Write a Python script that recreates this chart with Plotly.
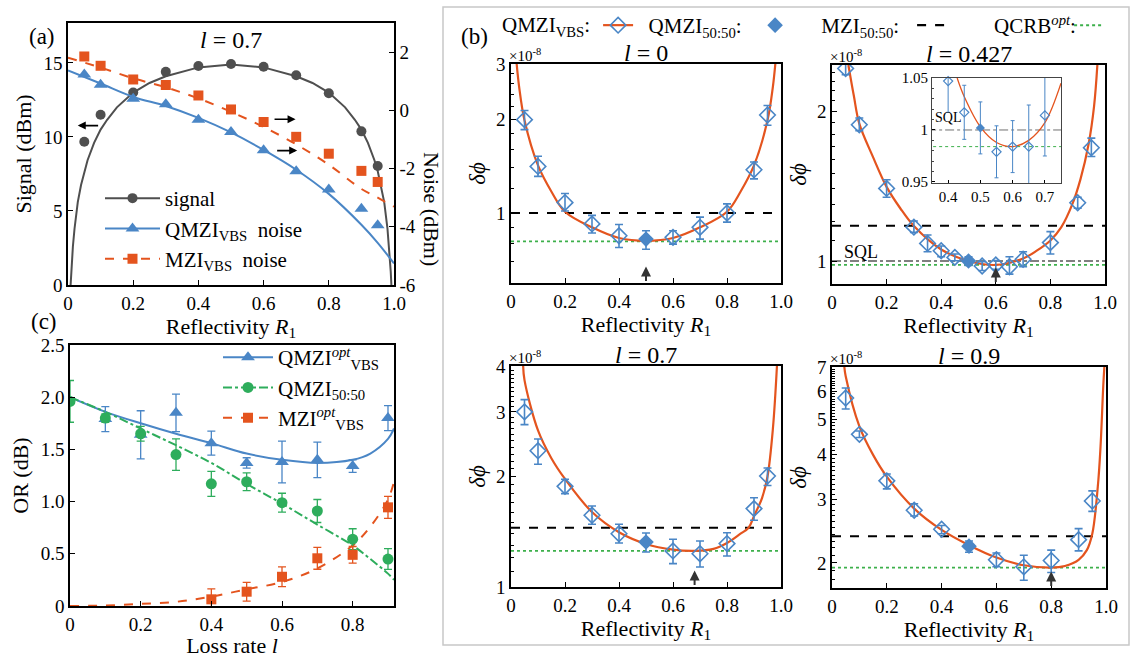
import numpy as np
import plotly.graph_objects as go

# ======================= DATA =======================
# ---- Panel (a): l = 0.7 ----
a_R = [0.05, 0.1, 0.2, 0.3, 0.4, 0.5, 0.6, 0.7, 0.8, 0.9, 0.95]
a_signal = [9.68, 11.5, 13.0, 14.4, 14.8, 14.93, 14.75, 14.17, 12.95, 10.38, 8.04]
a_qmzi_noise = [1.23, 0.88, 0.40, 0.21, -0.32, -0.74, -1.37, -2.09, -2.72, -3.38, -3.95]
a_mzi_noise = [1.85, 1.53, 1.06, 0.87, 0.51, 0.03, -0.40, -0.91, -1.49, -2.08, -2.46]

a_sig_fit_R = [0.008, 0.01, 0.015, 0.02, 0.03, 0.04, 0.05, 0.06, 0.08, 0.1, 0.12, 0.15, 0.2, 0.25, 0.3,
               0.4, 0.5, 0.6, 0.7, 0.75, 0.8, 0.85, 0.88, 0.9, 0.92, 0.94, 0.95, 0.96, 0.97, 0.98,
               0.985, 0.99, 0.992]
a_sig_fit = [0, 0.9, 2.6, 3.8, 5.6, 6.76, 7.7, 8.43, 9.6, 10.5, 11.16, 12.0, 13.0, 13.65, 14.1,
             14.7, 14.9, 14.7, 14.1, 13.65, 13.0, 12.0, 11.16, 10.5, 9.6, 8.43, 7.7, 6.76, 5.6, 3.8,
             2.6, 0.9, 0.0]
a_noise_fit_R = [0, 0.1, 0.2, 0.3, 0.4, 0.5, 0.6, 0.7, 0.8, 0.9, 0.95, 1.0]
a_qmzi_fit = [1.37, 0.92, 0.46, 0.15, -0.26, -0.76, -1.36, -2.04, -2.87, -3.93, -4.55, -5.26]
a_mzi_fit = [1.81, 1.47, 1.10, 0.79, 0.41, -0.05, -0.57, -1.17, -1.87, -2.70, -3.0, -3.31]

# ---- Panel (c): OR vs loss rate ----
c_l_vbs = [0.1, 0.2, 0.3, 0.4, 0.5, 0.6, 0.7, 0.8, 0.9]
c_qmzi_vbs = [1.79, 1.64, 1.85, 1.56, 1.37, 1.38, 1.40, 1.34, 1.80]
c_qmzi_vbs_err = [0.12, 0.23, 0.18, 0.115, 0.05, 0.2, 0.17, 0.06, 0.12]
c_l_5050 = [0, 0.1, 0.2, 0.3, 0.4, 0.5, 0.6, 0.7, 0.8, 0.9]
c_qmzi_5050 = [1.96, 1.80, 1.65, 1.45, 1.17, 1.19, 0.99, 0.91, 0.64, 0.45]
c_qmzi_5050_err = [0.2, 0.04, 0.07, 0.15, 0.12, 0.085, 0.09, 0.11, 0.1, 0.1]
c_l_mzi = [0.4, 0.5, 0.6, 0.7, 0.8, 0.9]
c_mzi_vbs = [0.064, 0.137, 0.28, 0.457, 0.49, 0.945]
c_mzi_vbs_err = [0.1, 0.09, 0.095, 0.105, 0.08, 0.105]
c_fit_l = [0, 0.1, 0.2, 0.3, 0.4, 0.5, 0.6, 0.7, 0.8, 0.85, 0.9, 0.917]
c_fit_qmzi_vbs = [2.0, 1.86, 1.75, 1.65, 1.56, 1.46, 1.40, 1.37, 1.40, 1.46, 1.60, 1.70]
c_fit_qmzi_5050 = [2.0, 1.86, 1.70, 1.54, 1.37, 1.17, 0.98, 0.78, 0.58, 0.45, 0.31, 0.25]
c_fit_mzi_vbs = [0, 0.005, 0.02, 0.04, 0.09, 0.16, 0.23, 0.36, 0.58, 0.76, 1.02, 1.19]

# ---- Panel (b): delta phi (units of 1e-8) ----
b_R_open = [0.05, 0.1, 0.2, 0.3, 0.4, 0.6, 0.7, 0.8, 0.9, 0.95]
b_R_fill = [0.5]

# l = 0
b0_open = [1.99, 1.41, 1.08, 0.923, 0.846, 0.836, 0.90, 1.0, 1.376, 2.06]
b0_open_ep = [0.14, 0.11, 0.075, 0.06, 0.073, 0.042, 0.07, 0.07, 0.08, 0.15]
b0_open_em = [0.14, 0.10, 0.065, 0.06, 0.07, 0.041, 0.075, 0.065, 0.09, 0.15]
b0_fill, b0_fill_ep, b0_fill_em = [0.825], [0.053], [0.059]
b0_fit_R = [0.021, 0.03, 0.05, 0.1, 0.15, 0.2, 0.3, 0.4, 0.5, 0.6, 0.7, 0.8, 0.85, 0.9, 0.95, 0.97, 0.979]
b0_fit = [3.0, 2.54, 1.98, 1.42, 1.17, 1.01, 0.90, 0.832, 0.815, 0.832, 0.90, 1.01, 1.17, 1.42, 1.98, 2.54, 3.0]
b0_mzi, b0_qcrb = 1.0, 0.811

# l = 0.427
b1_R_open = [0.05, 0.1, 0.2, 0.3, 0.35, 0.4, 0.45, 0.55, 0.6, 0.65, 0.7, 0.8, 0.9, 0.95]
b1_open = [2.44, 1.88, 1.40, 1.17, 1.085, 1.049, 1.017, 0.977, 0.982, 0.974, 1.008, 1.089, 1.31, 1.69]
b1_open_ep = [0.05, 0.06, 0.057, 0.034, 0.043, 0.023, 0.016, 0.02, 0.02, 0.046, 0.036, 0.057, 0.034, 0.077]
b1_open_em = [0.07, 0.05, 0.056, 0.028, 0.041, 0.029, 0.016, 0.02, 0.02, 0.033, 0.034, 0.056, 0.033, 0.067]
b1_fill, b1_fill_ep, b1_fill_em = [1.0], [0.02], [0.02]
b1_fit_R = [0.06, 0.08, 0.1, 0.15, 0.2, 0.25, 0.3, 0.4, 0.5, 0.6, 0.7, 0.75, 0.8, 0.84, 0.88, 0.91, 0.94, 0.96, 0.972]
b1_fit = [2.48, 2.15, 1.89, 1.62, 1.41, 1.277, 1.176, 1.055, 1.0, 0.982, 1.012, 1.049, 1.10, 1.17, 1.30, 1.46, 1.72, 2.05, 2.48]
b1_mzi, b1_qcrb, b1_sql = 1.177, 0.982, 1.0

# l = 0.7
b2_open = [3.0, 2.35, 1.88, 1.568, 1.397, 1.254, 1.232, 1.313, 1.635, 2.006]
b2_open_ep = [0.24, 0.18, 0.085, 0.094, 0.085, 0.095, 0.103, 0.093, 0.115, 0.104]
b2_open_em = [0.23, 0.19, 0.084, 0.086, 0.079, 0.096, 0.098, 0.098, 0.115, 0.116]
b2_fill, b2_fill_ep, b2_fill_em = [1.326], [0.077], [0.081]
b2_fit_R = [0.045, 0.05, 0.1, 0.15, 0.2, 0.3, 0.4, 0.5, 0.6, 0.68, 0.75, 0.8, 0.85, 0.88, 0.9, 0.93, 0.95, 0.97, 0.985]
b2_fit = [4.0, 3.66, 2.67, 2.24, 1.97, 1.60, 1.41, 1.31, 1.264, 1.254, 1.27, 1.318, 1.397, 1.45, 1.56, 1.75, 2.0, 2.7, 4.0]
b2_mzi, b2_qcrb = 1.45, 1.254

# l = 0.9
b3_open = [5.74, 4.55, 3.38, 2.80, 2.48, 2.04, 1.95, 2.03, 2.32, 2.97]
b3_open_ep = [0.38, 0.10, 0.15, 0.12, 0.06, 0.09, 0.15, 0.14, 0.17, 0.20]
b3_open_em = [0.39, 0.09, 0.17, 0.10, 0.07, 0.09, 0.16, 0.15, 0.16, 0.19]
b3_fill, b3_fill_ep, b3_fill_em = [2.226], [0.074], [0.086]
b3_fit_R = [0.045, 0.05, 0.1, 0.15, 0.2, 0.3, 0.4, 0.5, 0.6, 0.7, 0.8, 0.85, 0.9, 0.93, 0.95, 0.97, 0.98, 0.99, 0.994]
b3_fit = [7.0, 6.6, 4.79, 3.99, 3.47, 2.83, 2.47, 2.24, 2.07, 1.97, 1.94, 1.96, 2.04, 2.17, 2.41, 3.25, 4.2, 6.2, 7.0]
b3_mzi, b3_qcrb = 2.37, 1.94

# optimal-R arrows
b_opt_R = [0.5, 0.6, 0.68, 0.8]

# inset of l = 0.427
ins_R_open = [0.4, 0.45, 0.55, 0.6, 0.65, 0.7]
ins_open = [1.047, 1.017, 0.979, 0.984, 0.984, 1.014]
ins_open_err = [0.03, 0.026, 0.025, 0.025, 0.04, 0.039]
ins_fill, ins_fill_err = [1.002], [0.025]
ins_fit_R = [0.428, 0.45, 0.5, 0.55, 0.6, 0.65, 0.7, 0.75]
ins_fit = [1.05, 1.032, 1.003, 0.988, 0.984, 0.990, 1.007, 1.045]
ins_sql, ins_qcrb = 1.0, 0.984

R_ticks = [0, 0.2, 0.4, 0.6, 0.8, 1.0]
R_ticktext = ['0', '0.2', '0.4', '0.6', '0.8', '1.0']

# ======================= STYLE =======================
FONT = "Liberation Serif"
BLUE = "#4A86C6"
ORANGE = "#E4541E"
GREEN = "#2EAD5C"
QGREEN = "#3DB04B"
GREY = "#4F4F4F"
W, H = 1133, 658
TICK = 19
TTL = 22
NB = '\u00a0'


def fx(p):
    return p / W


def fy(p):
    return 1 - p / H


fig = go.Figure()

# ======================= PANEL (a) =======================
fig.add_trace(go.Scatter(x=a_sig_fit_R, y=a_sig_fit, mode='lines', line=dict(color=GREY, width=2),
                         xaxis='x', yaxis='y', showlegend=False))
fig.add_trace(go.Scatter(x=a_noise_fit_R, y=a_qmzi_fit, mode='lines',
                         line=dict(color=BLUE, width=2, shape='spline'),
                         xaxis='x', yaxis='y2', showlegend=False))
fig.add_trace(go.Scatter(x=a_noise_fit_R, y=a_mzi_fit, mode='lines',
                         line=dict(color=ORANGE, width=2, dash='dash', shape='spline'),
                         xaxis='x', yaxis='y2', showlegend=False))
fig.add_trace(go.Scatter(x=a_R, y=a_signal, mode='markers', marker=dict(color=GREY, size=10),
                         xaxis='x', yaxis='y', showlegend=False))
fig.add_trace(go.Scatter(x=a_R, y=a_qmzi_noise, mode='markers',
                         marker=dict(color=BLUE, size=12, symbol='triangle-up'),
                         xaxis='x', yaxis='y2', showlegend=False))
fig.add_trace(go.Scatter(x=a_R, y=a_mzi_noise, mode='markers',
                         marker=dict(color=ORANGE, size=10, symbol='square'),
                         xaxis='x', yaxis='y2', showlegend=False))
# legend entries (a)
fig.add_trace(go.Scatter(x=[None], y=[None], mode='lines+markers', name='signal',
                         line=dict(color=GREY, width=2), marker=dict(color=GREY, size=10),
                         xaxis='x', yaxis='y', legend='legend'))
fig.add_trace(go.Scatter(x=[None], y=[None], mode='lines+markers', name='QMZI<sub>VBS</sub>  noise',
                         line=dict(color=BLUE, width=2), marker=dict(color=BLUE, size=12, symbol='triangle-up'),
                         xaxis='x', yaxis='y', legend='legend'))
fig.add_trace(go.Scatter(x=[None], y=[None], mode='lines+markers', name='MZI<sub>VBS</sub>  noise',
                         line=dict(color=ORANGE, width=2, dash='dash'),
                         marker=dict(color=ORANGE, size=10, symbol='square'),
                         xaxis='x', yaxis='y', legend='legend'))

# ======================= PANEL (c) =======================
fig.add_trace(go.Scatter(x=c_fit_l, y=c_fit_qmzi_vbs, mode='lines', line=dict(color=BLUE, width=2, shape='spline'),
                         xaxis='x2', yaxis='y3', showlegend=False))
fig.add_trace(go.Scatter(x=c_fit_l, y=c_fit_qmzi_5050, mode='lines',
                         line=dict(color=GREEN, width=2, dash='dashdot', shape='spline'),
                         xaxis='x2', yaxis='y3', showlegend=False))
fig.add_trace(go.Scatter(x=c_fit_l, y=c_fit_mzi_vbs, mode='lines',
                         line=dict(color=ORANGE, width=2, dash='dash', shape='spline'),
                         xaxis='x2', yaxis='y3', showlegend=False))
fig.add_trace(go.Scatter(x=c_l_vbs, y=c_qmzi_vbs, mode='markers',
                         marker=dict(color=BLUE, size=12, symbol='triangle-up'),
                         error_y=dict(type='data', array=c_qmzi_vbs_err, color=BLUE, thickness=1.3, width=4),
                         xaxis='x2', yaxis='y3', showlegend=False))
fig.add_trace(go.Scatter(x=c_l_5050, y=c_qmzi_5050, mode='markers',
                         marker=dict(color=GREEN, size=11, symbol='circle'),
                         error_y=dict(type='data', array=c_qmzi_5050_err, color=GREEN, thickness=1.3, width=4),
                         xaxis='x2', yaxis='y3', showlegend=False))
fig.add_trace(go.Scatter(x=c_l_mzi, y=c_mzi_vbs, mode='markers',
                         marker=dict(color=ORANGE, size=10, symbol='square'),
                         error_y=dict(type='data', array=c_mzi_vbs_err, color=ORANGE, thickness=1.3, width=4),
                         xaxis='x2', yaxis='y3', showlegend=False))
fig.add_trace(go.Scatter(x=[None], y=[None], mode='lines+markers', name='QMZI<sup><i>opt</i></sup><sub>VBS</sub>',
                         line=dict(color=BLUE, width=2), marker=dict(color=BLUE, size=12, symbol='triangle-up'),
                         xaxis='x2', yaxis='y3', legend='legend2'))
fig.add_trace(go.Scatter(x=[None], y=[None], mode='lines+markers', name='QMZI<sub>50:50</sub>',
                         line=dict(color=GREEN, width=2, dash='dashdot'), marker=dict(color=GREEN, size=11),
                         xaxis='x2', yaxis='y3', legend='legend2'))
fig.add_trace(go.Scatter(x=[None], y=[None], mode='lines+markers', name='MZI<sup><i>opt</i></sup><sub>VBS</sub>',
                         line=dict(color=ORANGE, width=2, dash='dash'),
                         marker=dict(color=ORANGE, size=10, symbol='square'),
                         xaxis='x2', yaxis='y3', legend='legend2'))


# ======================= PANEL (b) =======================
def add_b(xa, ya, R_open, v_open, ep, em, v_fill, fep, fem, fit_R, fit_v, mzi, qcrb, sql=None,
          msize=12, bar_w=4, bar_t=1.6, lw=2.2):
    # reference lines across the full R range
    fig.add_trace(go.Scatter(x=[0, 1], y=[mzi, mzi], mode='lines', line=dict(color='black', width=2, dash='dash'),
                             xaxis=xa, yaxis=ya, showlegend=False))
    fig.add_trace(go.Scatter(x=[0, 1], y=[qcrb, qcrb], mode='lines', line=dict(color=QGREEN, width=1.8, dash='dot'),
                             xaxis=xa, yaxis=ya, showlegend=False))
    if sql is not None:
        fig.add_trace(go.Scatter(x=[0, 1], y=[sql, sql], mode='lines',
                                 line=dict(color='#808080', width=2, dash='dashdot'),
                                 xaxis=xa, yaxis=ya, showlegend=False))
    fig.add_trace(go.Scatter(x=fit_R, y=fit_v, mode='lines', line=dict(color=ORANGE, width=lw, shape='spline'),
                             xaxis=xa, yaxis=ya, showlegend=False))
    fig.add_trace(go.Scatter(x=R_open, y=v_open, mode='markers',
                             marker=dict(symbol='diamond-open', size=msize, color=BLUE, line=dict(width=1.6)),
                             error_y=dict(type='data', symmetric=False, array=ep, arrayminus=em,
                                          color=BLUE, thickness=bar_t, width=bar_w),
                             xaxis=xa, yaxis=ya, showlegend=False))
    fig.add_trace(go.Scatter(x=b_R_fill, y=v_fill, mode='markers',
                             marker=dict(symbol='diamond', size=msize, color=BLUE),
                             error_y=dict(type='data', symmetric=False, array=fep, arrayminus=fem,
                                          color=BLUE, thickness=bar_t, width=bar_w),
                             xaxis=xa, yaxis=ya, showlegend=False))


add_b('x3', 'y4', b_R_open, b0_open, b0_open_ep, b0_open_em, b0_fill, b0_fill_ep, b0_fill_em,
      b0_fit_R, b0_fit, b0_mzi, b0_qcrb)
add_b('x4', 'y5', b1_R_open, b1_open, b1_open_ep, b1_open_em, b1_fill, b1_fill_ep, b1_fill_em,
      b1_fit_R, b1_fit, b1_mzi, b1_qcrb, sql=b1_sql)
add_b('x5', 'y6', b_R_open, b2_open, b2_open_ep, b2_open_em, b2_fill, b2_fill_ep, b2_fill_em,
      b2_fit_R, b2_fit, b2_mzi, b2_qcrb)
add_b('x6', 'y7', b_R_open, b3_open, b3_open_ep, b3_open_em, b3_fill, b3_fill_ep, b3_fill_em,
      b3_fit_R, b3_fit, b3_mzi, b3_qcrb)

# inset
fig.add_trace(go.Scatter(x=[0, 1], y=[ins_sql, ins_sql], mode='lines', line=dict(color='#707070', width=1, dash='dashdot'),
                         xaxis='x7', yaxis='y8', showlegend=False))
fig.add_trace(go.Scatter(x=[0, 1], y=[ins_qcrb, ins_qcrb], mode='lines', line=dict(color=QGREEN, width=1, dash='dot'),
                         xaxis='x7', yaxis='y8', showlegend=False))
fig.add_trace(go.Scatter(x=ins_fit_R, y=ins_fit, mode='lines', line=dict(color=ORANGE, width=1.3, shape='spline'),
                         xaxis='x7', yaxis='y8', showlegend=False))
fig.add_trace(go.Scatter(x=ins_R_open, y=ins_open, mode='markers',
                         marker=dict(symbol='diamond-open', size=7, color=BLUE, line=dict(width=1.2)),
                         error_y=dict(type='data', array=ins_open_err, color=BLUE, thickness=1, width=2),
                         xaxis='x7', yaxis='y8', showlegend=False, cliponaxis=False))
fig.add_trace(go.Scatter(x=b_R_fill, y=ins_fill, mode='markers',
                         marker=dict(symbol='diamond', size=7, color=BLUE),
                         error_y=dict(type='data', array=ins_fill_err, color=BLUE, thickness=1, width=2),
                         xaxis='x7', yaxis='y8', showlegend=False))

# legend (b): title on the left + items whose text is the next label
fig.add_trace(go.Scatter(x=[None], y=[None], mode='lines+markers', name=NB * 2 + 'QMZI<sub>50:50</sub>:',
                         line=dict(color=ORANGE, width=2.2),
                         marker=dict(symbol='diamond-open', size=12, color=BLUE, line=dict(width=1.6)),
                         xaxis='x3', yaxis='y4', legend='legend3'))
fig.add_trace(go.Scatter(x=[None], y=[None], mode='markers', name=NB * 5 + 'MZI<sub>50:50</sub>:',
                         marker=dict(symbol='diamond', size=12, color=BLUE),
                         xaxis='x3', yaxis='y4', legend='legend3'))
fig.add_trace(go.Scatter(x=[None], y=[None], mode='lines', name=NB * 8 + 'QCRB<sup><i>opt</i></sup>:',
                         line=dict(color='black', width=2.2, dash='dash'),
                         xaxis='x3', yaxis='y4', legend='legend3'))
fig.add_trace(go.Scatter(x=[None], y=[None], mode='lines', name=' ',
                         line=dict(color=QGREEN, width=2, dash='dot'),
                         xaxis='x3', yaxis='y4', legend='legend3'))

# ======================= LAYOUT =======================
axis_common = dict(showline=True, linecolor='black', linewidth=1.5, ticks='inside', ticklen=5,
                   tickcolor='black', tickwidth=1.2, showgrid=False, zeroline=False, automargin=False,
                   tickfont=dict(family=FONT, size=TICK, color='black'))
title_font = dict(family=FONT, size=TTL, color='black')
R_title = dict(text='Reflectivity <i>R</i><sub>1</sub>', font=title_font, standoff=4)

lay = dict(
    width=W, height=H, margin=dict(l=0, r=0, t=0, b=0, autoexpand=False),
    paper_bgcolor='white', plot_bgcolor='white',
    font=dict(family=FONT, size=18, color='black'),
    # panel (a)
    xaxis=dict(axis_common, domain=[fx(68), fx(394)], range=[0, 1], anchor='y', mirror=True,
               tickvals=R_ticks, ticktext=R_ticktext, title=R_title),
    yaxis=dict(axis_common, domain=[fy(285), fy(23)], range=[0, 17.7], anchor='x',
               tickvals=[0, 5, 10, 15], ticktext=['0', '5', '10', '15'],
               title=dict(text='Signal (dBm)', font=title_font, standoff=6)),
    yaxis2=dict(axis_common, overlaying='y', side='right', anchor='x', range=[-6, 3],
                tickvals=[-6, -4, -2, 0, 2], ticktext=['-6', '-4', '-2', '0', '2']),
    # panel (c)
    xaxis2=dict(axis_common, domain=[fx(70), fx(394)], range=[0, 0.917], anchor='y3', mirror=True,
                tickvals=[0, 0.2, 0.4, 0.6, 0.8], ticktext=['0', '0.2', '0.4', '0.6', '0.8'],
                title=dict(text='Loss rate <i>l</i>', font=title_font, standoff=4)),
    yaxis3=dict(axis_common, domain=[fy(606), fy(345)], range=[0, 2.5], anchor='x2', mirror=True,
                tickvals=[0, 0.5, 1.0, 1.5, 2.0, 2.5], ticktext=['0', '0.5', '1.0', '1.5', '2.0', '2.5'],
                title=dict(text='OR (dB)', font=title_font, standoff=6)),
)

b_axes = [
    ('xaxis3', 'yaxis4', 'x3', 'y4', [511, 781], [64, 283], [0.597, 3], [1, 2, 3],
     [0.6, 0.7, 0.8, 0.9, 1.2, 1.4, 1.6, 1.8, 2.2, 2.4, 2.6, 2.8]),
    ('xaxis4', 'yaxis5', 'x4', 'y5', [832, 1105], [65, 284], [0.899, 2.48], [1, 2],
     list(np.round(np.arange(0.9, 2.5, 0.1), 2))),
    ('xaxis5', 'yaxis6', 'x5', 'y6', [511, 781], [366, 587], [1, 4], [1, 2, 3, 4],
     list(np.round(np.arange(1.1, 4.0, 0.1), 2))),
    ('xaxis6', 'yaxis7', 'x6', 'y7', [832, 1106], [367, 588], [1.703, 7], [2, 3, 4, 5, 6, 7],
     list(np.round(np.arange(1.8, 7.0, 0.1), 2))),
]
for xk, yk, xs, ys, xd, yd, yr, ytv, ymin in b_axes:
    lay[xk] = dict(axis_common, domain=[fx(xd[0]), fx(xd[1])], range=[0, 1], anchor=ys, mirror=True,
                   tickvals=R_ticks, ticktext=R_ticktext, title=R_title)
    lay[yk] = dict(axis_common, domain=[fy(yd[1]), fy(yd[0])], type='log',
                   range=[np.log10(yr[0]), np.log10(yr[1])], anchor=xs, mirror=True,
                   tickvals=ytv, ticktext=[str(v) for v in ytv],
                   minor=dict(tickvals=ymin, ticks='inside', ticklen=3, tickcolor='black', tickwidth=1),
                   title=dict(text='<i>δϕ</i>', font=dict(family=FONT, size=23, color='black'), standoff=4))

# inset axes
ins_axis = dict(axis_common, linewidth=1, linecolor='#444', tickfont=dict(family=FONT, size=15, color='black'),
                ticklen=3)
lay['xaxis7'] = dict(ins_axis, domain=[fx(932), fx(1061)], range=[0.35, 0.75], anchor='y8', mirror=True,
                     tickvals=[0.4, 0.5, 0.6, 0.7], ticktext=['0.4', '0.5', '0.6', '0.7'])
lay['yaxis8'] = dict(ins_axis, domain=[fy(183), fy(78)], range=[0.949, 1.05], anchor='x7', mirror=True,
                     tickvals=[0.95, 1.0, 1.05], ticktext=['0.95', '1', '1.05'],
                     minor=dict(dtick=0.01, ticks='inside', ticklen=2, tickcolor='#444'))

# legends
lay['legend'] = dict(x=fx(100), y=fy(178), xanchor='left', yanchor='top', bgcolor='rgba(0,0,0,0)',
                     font=dict(family=FONT, size=21, color='black'), itemwidth=55, tracegroupgap=0)
lay['legend2'] = dict(x=fx(218), y=fy(337), xanchor='left', yanchor='top', bgcolor='rgba(0,0,0,0)',
                      font=dict(family=FONT, size=21, color='black'), itemwidth=50)
lay['legend3'] = dict(x=fx(500), y=fy(5), xanchor='left', yanchor='top', orientation='h',
                      bgcolor='rgba(0,0,0,0)', font=dict(family=FONT, size=21, color='black'), itemwidth=30,
                      entrywidth=112, entrywidthmode='pixels',
                      title=dict(text='QMZI<sub>VBS</sub>:', side='left', font=dict(family=FONT, size=21)))

fig.update_layout(**lay)

# ======================= ANNOTATIONS =======================
ann = []
# panel labels
for txt, px_, py_ in [('(a)', 27, 22), ('(b)', 474, 22), ('(c)', 29, 322)]:
    ann.append(dict(text=txt, x=fx(px_), y=fy(py_), xref='paper', yref='paper', showarrow=False,
                    font=dict(family=FONT, size=23, color='black')))
# panel (a) title and right axis title
ann.append(dict(text='<i>l</i> = 0.7', x=0.5, y=1, xref='x domain', yref='y domain', yanchor='top', yshift=-2,
                showarrow=False, font=dict(family=FONT, size=24, color='black')))
ann.append(dict(text='Noise (dBm)', x=fx(432), y=fy(150), xref='paper', yref='paper', textangle=90,
                showarrow=False, font=title_font))
# panel (a) arrows (head x, head y, tail x, tail y), y on the signal axis
a_arrows = [(0.03, 10.77, 0.097, 10.77), (0.698, 11.2, 0.629, 11.2), (0.703, 9.08, 0.637, 9.08)]
for hx, hy, tx, ty in a_arrows:
    ann.append(dict(x=hx, y=hy, ax=tx, ay=ty, xref='x', yref='y', axref='x', ayref='y', text='',
                    showarrow=True, arrowhead=2, arrowsize=1, arrowwidth=1.6, arrowcolor='black'))
# panel (b) titles, multipliers, arrows
b_titles = ['<i>l</i> = 0', '<i>l</i> = 0.427', '<i>l</i> = 0.7', '<i>l</i> = 0.9']
for (xk, yk, xs, ys, *_), t, r in zip(b_axes, b_titles, b_opt_R):
    ann.append(dict(text=t, x=0.5, y=1, xref=f'{xs} domain', yref=f'{ys} domain', yanchor='bottom',
                    yshift=-4, showarrow=False, font=dict(family=FONT, size=24, color='black')))
    ann.append(dict(text='×10<sup>-8</sup>', x=0, y=1, xref=f'{xs} domain', yref=f'{ys} domain',
                    xanchor='left', yanchor='bottom', xshift=-4, yshift=-2, showarrow=False,
                    font=dict(family=FONT, size=15, color='black')))
    ann.append(dict(x=r, y=0.075, xref=xs, yref=f'{ys} domain', ax=0, ay=16, text='', showarrow=True,
                    arrowhead=2, arrowsize=1, arrowwidth=2, arrowcolor='#333'))
# SQL labels
ann.append(dict(text='SQL', x=0.035, y=np.log10(1.045), xref='x4', yref='y5', xanchor='left', yanchor='middle',
                showarrow=False, font=dict(family=FONT, size=18, color='black')))
ann.append(dict(text='SQL', x=0.353, y=1.012, xref='x7', yref='y8', xanchor='left', yanchor='middle',
                showarrow=False, font=dict(family=FONT, size=14, color='black')))
fig.update_layout(annotations=ann)

# grey frame around panel (b)
fig.add_shape(type='rect', x0=fx(443), x1=fx(1129), y0=fy(645), y1=fy(7), xref='paper', yref='paper',
              line=dict(color='#c8c8c8', width=1.5), fillcolor='rgba(0,0,0,0)', layer='below')

fig.write_html("out.html", config={'displayModeBar': False},
               post_script="document.body.style.margin='0px';")
